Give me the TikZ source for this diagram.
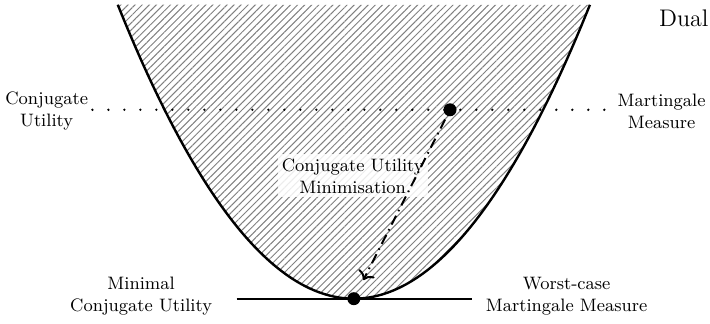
\documentclass[tikz,border=0pt]{standalone}
\usepackage{amsmath}
\usepackage{tikz}
\usetikzlibrary{arrows.meta, patterns.meta, positioning, calc}

\begin{document}
\begin{tikzpicture}[>=Stealth, font=\small,
    lbl/.style={align=center, font=\small, inner sep=2pt},
    dot/.style={circle, fill=black, inner sep=0pt, minimum size=6.5pt}]
  \useasboundingbox (-6.22,-0.44) rectangle (6.26,5.25);

  % Dual feasible set: hatched epigraph
  \fill[pattern={Lines[angle=45, distance=2.5pt, line width=0.5pt]},
        pattern color=black!50]
    plot[domain=-4.15:4.15, samples=60, smooth] (\x,{0.3*\x*\x}) -- cycle;
  \draw[line width=1.2pt]
    plot[domain=-4.15:4.15, samples=60, smooth] (\x,{0.3*\x*\x});
  \node[font=\large] (dual) at (5.80,4.93) {Dual};

  % Supporting line at the minimum
  \coordinate (tl) at (-2.06,0);
  \coordinate (tr) at (2.07,0);
  \draw[line width=1pt] (tl) -- (tr);

  % Points
  \node[dot] (mdot) at (1.69,3.32) {};
  \node[dot] (wdot) at (0,0) {};

  % Labels
  \node[lbl] (cu) at (-5.40,3.30) {Conjugate\\Utility};
  \node[lbl] (mm) at (5.41,3.30) {Martingale\\Measure};
  \node[lbl] (mcu) at (-3.74,0.04) {Minimal\\Conjugate Utility};
  \node[lbl] (wmm) at (3.74,0.04) {Worst-case\\Martingale Measure};
  \node[lbl, fill=white, fill opacity=0.85, text opacity=1] (cum)
    at (-0.02,2.16) {Conjugate Utility\\Minimisation};

  % Level of the conjugate utility
  \draw[line width=1.3pt, line cap=round, dash pattern=on 0pt off 8pt]
    (cu.east |- mdot) -- (mm.west |- mdot);

  % Minimisation path
  \draw[-{To[length=4pt,width=9pt]}, line width=1pt,
        dash pattern=on 5pt off 2.5pt on 0.8pt off 2.5pt,
        shorten <=2pt, shorten >=7pt]
    (mdot) -- (wdot);
\end{tikzpicture}
\end{document}
